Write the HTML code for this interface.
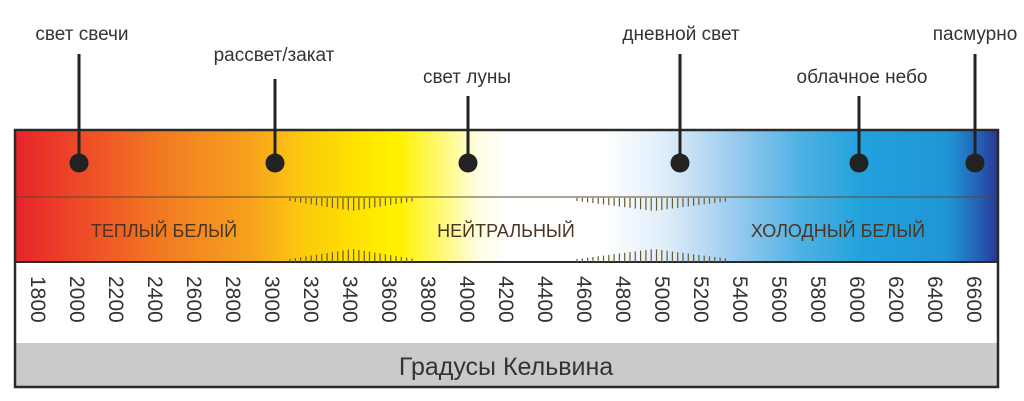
<!DOCTYPE html>
<html><head><meta charset="utf-8"><style>
html,body{margin:0;padding:0;background:#fff;width:1024px;height:401px;overflow:hidden}
</style></head><body>
<svg width="1024" height="401" viewBox="0 0 1024 401" xmlns="http://www.w3.org/2000/svg" font-family="'Liberation Sans','DejaVu Sans',sans-serif">
<defs>
<linearGradient id="g" x1="15" x2="998" y1="0" y2="0" gradientUnits="userSpaceOnUse">
<stop offset="0" stop-color="#e8232b"/>
<stop offset="0.07" stop-color="#ee4c27"/>
<stop offset="0.15" stop-color="#f27a22"/>
<stop offset="0.24" stop-color="#f6a21c"/>
<stop offset="0.29" stop-color="#fcc80e"/>
<stop offset="0.35" stop-color="#ffe400"/>
<stop offset="0.39" stop-color="#fff200"/>
<stop offset="0.43" stop-color="#fff86a"/>
<stop offset="0.47" stop-color="#fffde0"/>
<stop offset="0.50" stop-color="#ffffff"/>
<stop offset="0.60" stop-color="#ffffff"/>
<stop offset="0.66" stop-color="#e0eef9"/>
<stop offset="0.73" stop-color="#9cccef"/>
<stop offset="0.80" stop-color="#4eb1e4"/>
<stop offset="0.86" stop-color="#22a2dc"/>
<stop offset="0.95" stop-color="#1f95d6"/>
<stop offset="0.985" stop-color="#2458b0"/>
<stop offset="1" stop-color="#2a3590"/>
</linearGradient>
</defs>
<rect x="15" y="130" width="983" height="132" fill="url(#g)"/>
<rect x="15" y="262" width="983" height="81" fill="#fff"/>
<rect x="15" y="343" width="983" height="44" fill="#cacacc"/>
<line x1="15" y1="197" x2="998" y2="197" stroke="#5a4a2a" stroke-width="1"/>
<line x1="15" y1="262" x2="998" y2="262" stroke="#2a2a2a" stroke-width="2"/>
<rect x="15" y="130" width="983" height="257" fill="none" stroke="#2a2a2a" stroke-width="2.5"/>
<g fill="#333" font-size="19" text-anchor="middle">
<text x="82" y="40">свет свечи</text>
<text x="274" y="61">рассвет/закат</text>
<text x="467" y="83">свет луны</text>
<text x="681" y="40">дневной свет</text>
<text x="862" y="83">облачное небо</text>
<text x="975" y="40">пасмурно</text>
</g>
<g stroke="#222" stroke-width="3">
<line x1="79" y1="54" x2="79" y2="163"/>
<line x1="275" y1="79" x2="275" y2="163"/>
<line x1="468" y1="96" x2="468" y2="163"/>
<line x1="680" y1="54" x2="680" y2="163"/>
<line x1="859" y1="96" x2="859" y2="163"/>
<line x1="975" y1="54" x2="975" y2="163"/>
</g>
<g fill="#222">
<circle cx="79" cy="163" r="9.5"/><circle cx="275" cy="163" r="9.5"/><circle cx="468" cy="163" r="9.5"/>
<circle cx="680" cy="163" r="9.5"/><circle cx="859" cy="163" r="9.5"/><circle cx="975" cy="163" r="9.5"/>
</g>
<g fill="#4a3520" font-size="18" text-anchor="middle">
<text x="164" y="237">ТЕПЛЫЙ БЕЛЫЙ</text>
<text x="506" y="237">НЕЙТРАЛЬНЫЙ</text>
<text x="838" y="237">ХОЛОДНЫЙ БЕЛЫЙ</text>
</g>
<g fill="#333" font-size="21">
<text transform="translate(31,276) rotate(90)">1800</text>
<text transform="translate(70,276) rotate(90)">2000</text>
<text transform="translate(109,276) rotate(90)">2200</text>
<text transform="translate(148,276) rotate(90)">2400</text>
<text transform="translate(187,276) rotate(90)">2600</text>
<text transform="translate(226,276) rotate(90)">2800</text>
<text transform="translate(265,276) rotate(90)">3000</text>
<text transform="translate(304,276) rotate(90)">3200</text>
<text transform="translate(343,276) rotate(90)">3400</text>
<text transform="translate(382,276) rotate(90)">3600</text>
<text transform="translate(421,276) rotate(90)">3800</text>
<text transform="translate(460,276) rotate(90)">4000</text>
<text transform="translate(499,276) rotate(90)">4200</text>
<text transform="translate(538,276) rotate(90)">4400</text>
<text transform="translate(577,276) rotate(90)">4600</text>
<text transform="translate(616,276) rotate(90)">4800</text>
<text transform="translate(655,276) rotate(90)">5000</text>
<text transform="translate(694,276) rotate(90)">5200</text>
<text transform="translate(733,276) rotate(90)">5400</text>
<text transform="translate(772,276) rotate(90)">5600</text>
<text transform="translate(811,276) rotate(90)">5800</text>
<text transform="translate(850,276) rotate(90)">6000</text>
<text transform="translate(889,276) rotate(90)">6200</text>
<text transform="translate(928,276) rotate(90)">6400</text>
<text transform="translate(967,276) rotate(90)">6600</text>
</g>
<text x="506" y="375" fill="#333" font-size="25" text-anchor="middle">Градусы Кельвина</text>
</svg>
<script>
var s=document.querySelector('svg'),ns='http://www.w3.org/2000/svg';
function grp(a,b){var c=(a+b)/2,h=(b-a)/2;for(var x=a;x<=b;x+=5.3){var L=3+10*Math.max(0,1-Math.abs(x-c)/h);
[[198,198+L],[262-L,262]].forEach(function(p){var l=document.createElementNS(ns,'line');l.setAttribute('x1',x);l.setAttribute('x2',x);l.setAttribute('y1',p[0]);l.setAttribute('y2',p[1]);l.setAttribute('stroke','#6a5a30');l.setAttribute('stroke-width','1.2');s.appendChild(l);});}}
grp(290,415);grp(577,730);
</script>
</body></html>
